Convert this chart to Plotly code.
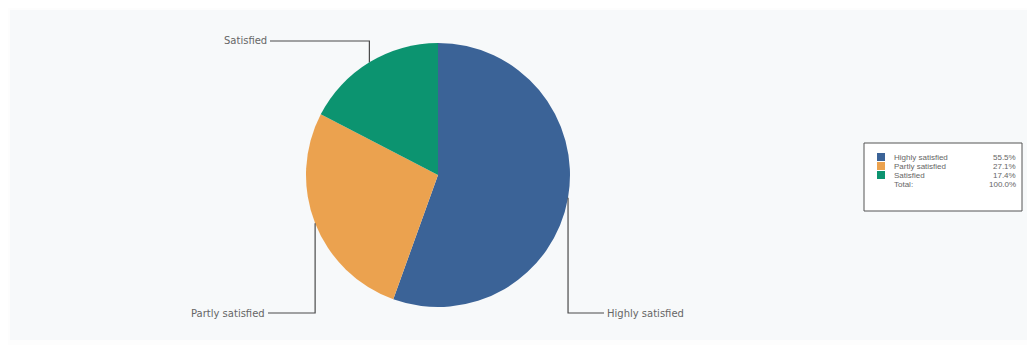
import math
import plotly.graph_objects as go

labels = ["Highly satisfied", "Partly satisfied", "Satisfied"]
values = [55.5, 27.1, 17.4]
colors = ["#3b6397", "#eba24f", "#0c9470"]
total_label = "Total:"

# page body has an 8px margin; map reference pixel coords to the figure
OFF = 8
W, H = 1035 - OFF, 345 - OFF
cx, cy, r = 438, 175, 132

def px(x):
    return (x - OFF) / W

def py(y):
    return 1 - (y - OFF) / H

fig = go.Figure()
fig.add_trace(go.Pie(
    labels=labels, values=values, sort=False, direction="clockwise", rotation=0,
    marker=dict(colors=colors, line=dict(width=0)), textinfo="none", hoverinfo="label+percent",
    showlegend=False,
    domain=dict(x=[px(cx - r), px(cx + r)], y=[py(cy + r), py(cy - r)]),
))

shapes = []
annotations = []

# background panel
shapes.append(dict(type="rect", xref="paper", yref="paper", x0=px(10), x1=px(1033), y0=py(340), y1=py(10),
                   fillcolor="#f7f9fa", line=dict(width=0), layer="below"))

label_font = dict(family="DejaVu Sans", size=10, color="#666666")
legend_font = dict(family="Liberation Sans, Arial", size=8, color="#666666")

# leader lines computed from slice midpoints
tot = sum(values)
cum = 0
top_y, bot_y = 41, 313
for lab, v in zip(labels, values):
    mid = (cum + v / 2) / tot
    cum += v
    ang = 2 * math.pi * mid
    sx = cx + r * math.sin(ang)
    sy = cy - r * math.cos(ang)
    ty = top_y if sy < cy - r * 0.5 else bot_y
    if sx < cx:
        ex = 270 if ty == top_y else 268
        anchor, tx = "right", ex - 1
    else:
        ex = 604
        anchor, tx = "left", ex + 1
    path = f"M {px(sx)} {py(sy)} L {px(sx)} {py(ty)} L {px(ex)} {py(ty)}"
    shapes.append(dict(type="path", xref="paper", yref="paper", path=path,
                       line=dict(color="#4a4a4a", width=1.2)))
    annotations.append(dict(x=px(tx), y=py(ty), xref="paper", yref="paper", text=lab,
                            showarrow=False, xanchor=anchor, yanchor="middle", font=label_font))

# legend box
lx0, ly0, lx1, ly1 = 864, 143, 1022, 211
shapes.append(dict(type="rect", xref="paper", yref="paper", x0=px(lx0), x1=px(lx1), y0=py(ly1), y1=py(ly0),
                   fillcolor="#ffffff", line=dict(color="#555555", width=1)))
row_y = [157, 166, 175, 184]
for i, (lab, v, c) in enumerate(zip(labels, values, colors)):
    y = row_y[i]
    shapes.append(dict(type="rect", xref="paper", yref="paper", x0=px(877), x1=px(885),
                       y0=py(y + 4), y1=py(y - 4), fillcolor=c, line=dict(width=0)))
    annotations.append(dict(x=px(892), y=py(y), xref="paper", yref="paper", text=lab, showarrow=False,
                            xanchor="left", yanchor="middle", font=legend_font))
    annotations.append(dict(x=px(1018), y=py(y), xref="paper", yref="paper", text=f"{v / tot * 100:.1f}%",
                            showarrow=False, xanchor="right", yanchor="middle", font=legend_font))
annotations.append(dict(x=px(892), y=py(row_y[3]), xref="paper", yref="paper", text=total_label, showarrow=False,
                        xanchor="left", yanchor="middle", font=legend_font))
annotations.append(dict(x=px(1018), y=py(row_y[3]), xref="paper", yref="paper", text=f"{tot / tot * 100:.1f}%",
                        showarrow=False, xanchor="right", yanchor="middle", font=legend_font))

fig.update_layout(
    width=W, height=H, margin=dict(l=0, r=0, t=0, b=0),
    paper_bgcolor="#fdfdfd", plot_bgcolor="#fdfdfd",
    shapes=shapes, annotations=annotations,
)
fig.write_html("out.html")
